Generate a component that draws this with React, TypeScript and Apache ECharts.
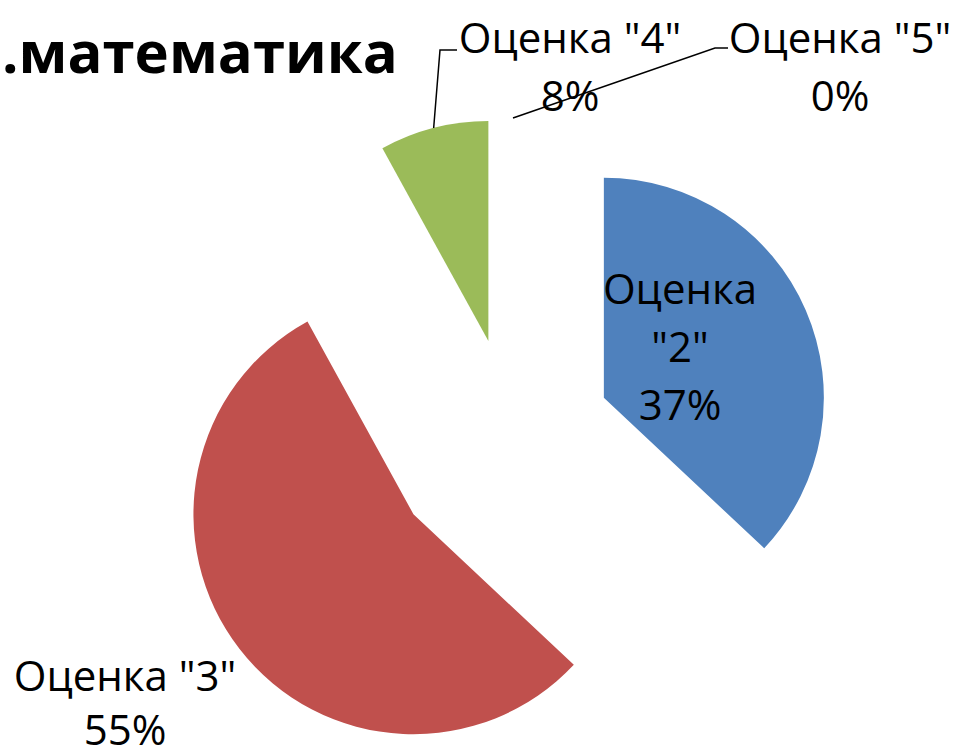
import React, { useEffect, useRef } from 'react';
import * as echarts from 'echarts';

// ---- data ----
const categories = ['Оценка "2"', 'Оценка "3"', 'Оценка "4"', 'Оценка "5"'];
const shares = [37, 55, 8, 0];
const titleText = '.математика';

// ---- styles / layout ----
const colors = ['#4F81BD', '#C0504D', '#9BBB59', '#8064A2'];
const CX = 513;
const CY = 437;
const R = 220;
const explode = [99, 126, 99, 99];
const FONT = '"Open Sans", "Noto Sans", sans-serif';
const LABEL_SIZE = 42;
const labelLayout: { inside?: boolean; x: number; y: number; lh: number; elbow?: number[][] }[] = [
  { inside: true, x: 680, y: 345, lh: 58 },
  { x: 125, y: 701, lh: 54 },
  { x: 570, y: 65, lh: 58, elbow: [[440, 50], [457, 50]] },
  { x: 840, y: 65, lh: 58, elbow: [[715, 48], [728, 48]] },
];

export default function App() {
  const ref = useRef<HTMLDivElement>(null);
  useEffect(() => {
    if (!ref.current) return;
    const chart = echarts.init(ref.current, undefined, { renderer: 'svg' });
    const total = shares.reduce((a, b) => a + b, 0);
    const option: any = {
      animation: false,
      backgroundColor: '#fff',
      title: {
        text: titleText,
        left: -3,
        top: 16,
        textStyle: { fontFamily: FONT, fontWeight: 'bold', fontSize: 58, color: '#000' },
      },
      series: [
        {
          type: 'custom',
          coordinateSystem: 'none',
          data: shares.map((v, i) => ({ value: v, name: categories[i] })),
          renderItem: (params: any, api: any) => {
            const i = params.dataIndex;
            const v = api.value(0) as number;
            let before = 0;
            for (let k = 0; k < i; k++) before += shares[k];
            const a0 = (before / total) * Math.PI * 2;
            const a1 = ((before + v) / total) * Math.PI * 2;
            const mid = (a0 + a1) / 2;
            const cx = CX + Math.sin(mid) * explode[i];
            const cy = CY - Math.cos(mid) * explode[i];
            const children: any[] = [];
            if (v > 0) {
              children.push({
                type: 'sector',
                shape: {
                  cx,
                  cy,
                  r0: 0,
                  r: R,
                  startAngle: a0 - Math.PI / 2,
                  endAngle: a1 - Math.PI / 2,
                  clockwise: true,
                },
                style: { fill: colors[i] },
              });
            }
            const lay = labelLayout[i];
            const pct = Math.round((v / total) * 100) + '%';
            const name = categories[i];
            const text = lay.inside ? name.replace(' ', '\n') + '\n' + pct : name + '\n' + pct;
            if (lay.elbow) {
              const ax = cx + Math.sin(mid) * R;
              const ay = cy - Math.cos(mid) * R;
              children.push({
                type: 'polyline',
                shape: { points: [[ax, ay], ...lay.elbow] },
                style: { stroke: '#000', lineWidth: 1.5, fill: 'none' },
              });
            }
            children.push({
              type: 'text',
              x: lay.x,
              y: lay.y,
              style: {
                text,
                fill: '#000',
                fontFamily: FONT,
                fontSize: LABEL_SIZE,
                lineHeight: lay.lh,
                align: 'center',
                verticalAlign: 'middle',
              },
            });
            return { type: 'group', children };
          },
        },
      ],
    };
    chart.setOption(option);
    return () => chart.dispose();
  }, []);
  return (
    <div
      ref={ref}
      style={{ position: 'fixed', left: 0, top: 0, width: 957, height: 756 }}
    />
  );
}
